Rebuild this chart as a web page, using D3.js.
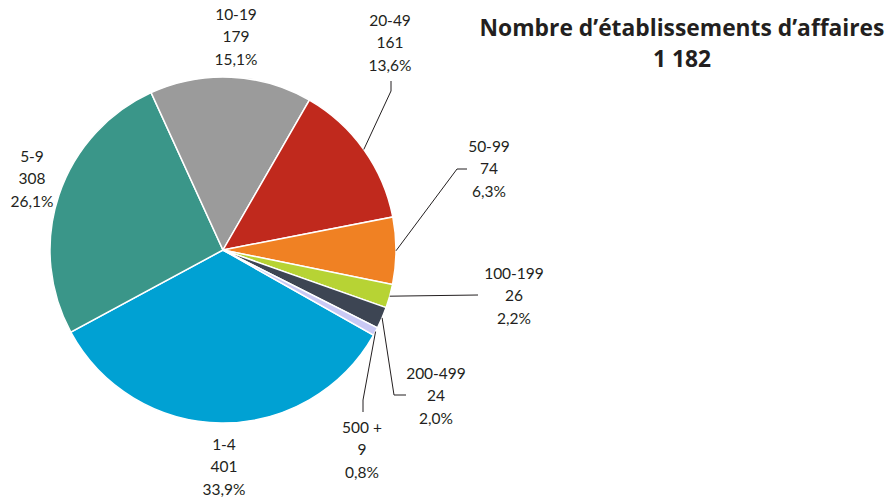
<!DOCTYPE html>
<html><head><meta charset="utf-8">
<script src="https://cdn.jsdelivr.net/npm/d3@7"></script>
<style>body{margin:0;background:#fff}text{font-family:Lato,"Open Sans",sans-serif;fill:#231f20}</style>
</head><body><svg id="c" width="886" height="497"></svg>
<script>
const categories = ["1-4","5-9","10-19","20-49","50-99","100-199","200-499","500 +"];
const values = [401,308,179,161,74,26,24,9];
const percents = ["33,9%","26,1%","15,1%","13,6%","6,3%","2,2%","2,0%","0,8%"];
const colors = ["#00a1d3","#3a9689","#9b9b9b","#c0291d","#f08123","#b7d334","#3d4553","#c9c9f4"];
const titleLines = ["Nombre d\u2019établissements d\u2019affaires","1 182"];

const svg = d3.select("#c");
const cx = 223, cy = 250, R = 173;
const start = 119.5*Math.PI/180;
const pie = d3.pie().sort(null).value(d=>d.v).startAngle(start).endAngle(start+2*Math.PI);
const data = categories.map((c,i)=>({c, v:values[i], p:percents[i], col:colors[i]}));
const arcs = pie(data);
const arc = d3.arc().innerRadius(0).outerRadius(R);
const g = svg.append("g").attr("transform",`translate(${cx},${cy})`);
g.selectAll("path").data(arcs).join("path").attr("d",arc).attr("fill",d=>d.data.col)
 .attr("stroke","#fff").attr("stroke-width",1.5);

const labelPos = {
 "1-4":{x:224,y:450},
 "5-9":{x:32,y:162},
 "10-19":{x:236,y:20},
 "20-49":{x:390,y:26, lead:[[391,91],[391,81]]},
 "50-99":{x:489,y:152, lead:[[457,169],[467,169]]},
 "100-199":{x:514,y:279, lead:[[478,295]]},
 "200-499":{x:436,y:379, lead:[[394,395],[406,395]]},
 "500 +":{x:362,y:433, lead:[[363,400],[363,412]]}
};
const lh = 22.3;
arcs.forEach(a=>{
  const L = labelPos[a.data.c];
  const t = svg.append("text").attr("text-anchor","middle").attr("font-size",15.5);
  [a.data.c, String(a.data.v), a.data.p].forEach((s,i)=>{
    t.append("tspan").attr("x",L.x).attr("y",L.y+i*lh).text(s);
  });
  if(L.lead){
    const m=(a.startAngle+a.endAngle)/2;
    const p0=[cx+R*Math.sin(m), cy-R*Math.cos(m)];
    svg.append("path").attr("d",d3.line()([p0,...L.lead])).attr("fill","none")
      .attr("stroke","#231f20").attr("stroke-width",1);
  }
});
const tt = svg.append("text").attr("text-anchor","middle").attr("font-weight","bold")
  .attr("font-size",22.8).style("font-family","'Open Sans',sans-serif");
titleLines.forEach((s,i)=>tt.append("tspan").attr("x",682).attr("y",36+i*31).text(s));
</script></body></html>
